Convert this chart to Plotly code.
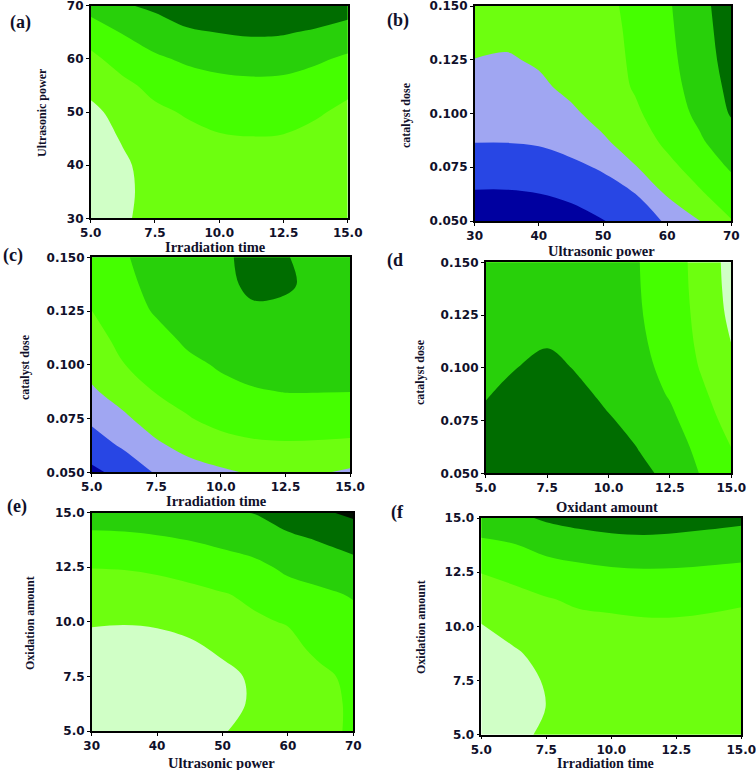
import plotly.graph_objects as go

# ---------------- data ----------------
IRR_TIME = [5, 6.25, 7.5, 8.75, 10, 11.25, 12.5, 13.75, 15]
US_POWER = [30, 35, 40, 45, 50, 55, 60, 65, 70]
CAT_DOSE = [0.05, 0.0625, 0.075, 0.0875, 0.1, 0.1125, 0.125, 0.1375, 0.15]
OX_AMOUNT = [5, 6.25, 7.5, 8.75, 10, 11.25, 12.5, 13.75, 15]

TICKS_TIME = [5, 7.5, 10, 12.5, 15]
TICKTEXT_TIME = ["5.0", "7.5", "10.0", "12.5", "15.0"]
TICKS_POWER = [30, 40, 50, 60, 70]
TICKTEXT_POWER = ["30", "40", "50", "60", "70"]
TICKS_DOSE = [0.05, 0.075, 0.1, 0.125, 0.15]
TICKTEXT_DOSE = ["0.050", "0.075", "0.100", "0.125", "0.150"]
TICKS_OX = [5, 7.5, 10, 12.5, 15]
TICKTEXT_OX = ["5.0", "7.5", "10.0", "12.5", "15.0"]

# response level (contour band index) on the grid; rows = y values, columns = x values
Z_A = [  # x: irradiation time, y: ultrasonic power
    [0.55, 0.92, 1.20, 1.42, 1.58, 1.63, 1.60, 1.45, 1.20],
    [0.50, 0.89, 1.18, 1.42, 1.60, 1.64, 1.62, 1.47, 1.22],
    [0.52, 0.90, 1.25, 1.50, 1.70, 1.75, 1.72, 1.56, 1.30],
    [0.70, 1.05, 1.45, 1.70, 1.92, 1.97, 1.94, 1.76, 1.50],
    [0.90, 1.15, 1.80, 2.10, 2.28, 2.33, 2.30, 2.10, 1.82],
    [1.12, 1.75, 2.30, 2.55, 2.75, 2.80, 2.77, 2.55, 2.20],
    [1.75, 2.45, 2.85, 3.15, 3.30, 3.40, 3.36, 3.15, 2.85],
    [2.50, 3.05, 3.50, 3.85, 4.02, 4.12, 4.08, 3.88, 3.60],
    [3.35, 3.90, 4.18, 4.65, 4.85, 4.95, 4.92, 4.70, 4.45],
]
Z_B = [  # x: ultrasonic power, y: catalyst dose
    [0.25, 0.25, 0.30, 0.50, 0.95, 1.55, 2.10, 2.97, 3.95],
    [0.90, 0.90, 0.98, 1.25, 1.60, 1.98, 3.10, 3.85, 4.60],
    [1.50, 1.50, 1.58, 1.80, 2.10, 2.95, 3.70, 4.45, 5.10],
    [2.05, 2.05, 2.12, 2.35, 2.90, 3.42, 4.25, 4.88, 5.60],
    [2.40, 2.38, 2.50, 2.85, 3.30, 3.85, 4.50, 5.20, 6.08],
    [2.70, 2.65, 2.85, 3.20, 3.55, 4.08, 4.65, 5.38, 6.25],
    [2.99, 2.92, 3.10, 3.40, 3.70, 4.12, 4.75, 5.50, 6.40],
    [3.20, 3.20, 3.25, 3.50, 3.75, 4.15, 4.82, 5.58, 6.50],
    [3.30, 3.30, 3.35, 3.55, 3.80, 4.20, 4.88, 5.65, 6.60],
]
Z_C = [  # x: irradiation time, y: catalyst dose
    [0.80, 1.30, 2.10, 2.60, 2.85, 3.10, 3.15, 3.10, 2.85],
    [1.50, 2.15, 2.85, 3.30, 3.65, 3.85, 3.90, 3.88, 3.85],
    [2.20, 2.85, 3.45, 3.95, 4.30, 4.45, 4.50, 4.48, 4.40],
    [2.88, 3.40, 4.05, 4.35, 4.75, 4.93, 5.02, 5.02, 5.01],
    [3.30, 3.98, 4.40, 4.80, 5.10, 5.30, 5.35, 5.30, 5.25],
    [3.65, 4.30, 4.70, 5.20, 5.40, 5.60, 5.62, 5.55, 5.45],
    [3.99, 4.55, 5.10, 5.50, 5.65, 5.92, 5.88, 5.75, 5.60],
    [4.30, 4.75, 5.30, 5.70, 5.85, 6.12, 6.08, 5.85, 5.68],
    [4.55, 4.90, 5.45, 5.80, 5.90, 6.15, 6.03, 5.82, 5.70],
]
Z_D = [  # x: oxidant amount, y: catalyst dose
    [4.50, 4.75, 4.85, 4.75, 4.50, 4.15, 3.85, 2.95, 2.30],
    [4.35, 4.62, 4.72, 4.60, 4.32, 3.97, 3.55, 2.70, 1.99],
    [4.15, 4.45, 4.56, 4.42, 4.08, 3.72, 3.22, 2.42, 1.70],
    [3.95, 4.22, 4.35, 4.20, 3.81, 3.48, 2.92, 2.18, 1.45],
    [3.75, 3.99, 4.29, 3.92, 3.55, 3.28, 2.72, 1.95, 1.20],
    [3.60, 3.82, 3.90, 3.76, 3.38, 3.15, 2.60, 1.82, 0.98],
    [3.45, 3.68, 3.78, 3.62, 3.25, 3.07, 2.52, 1.75, 0.80],
    [3.35, 3.58, 3.68, 3.52, 3.15, 3.03, 2.47, 1.70, 0.70],
    [3.28, 3.50, 3.60, 3.45, 3.10, 3.01, 2.45, 1.67, 0.65],
]
Z_E = [  # x: ultrasonic power, y: oxidation amount
    [0.30, 0.22, 0.25, 0.40, 0.95, 1.25, 1.55, 1.80, 2.10],
    [0.28, 0.20, 0.22, 0.38, 0.72, 1.12, 1.45, 1.75, 2.12],
    [0.35, 0.28, 0.30, 0.48, 0.75, 1.15, 1.50, 1.82, 2.20],
    [0.60, 0.55, 0.60, 0.80, 1.15, 1.45, 1.75, 2.20, 2.35],
    [1.10, 1.06, 1.12, 1.30, 1.55, 1.90, 2.05, 2.55, 2.70],
    [1.55, 1.55, 1.62, 1.78, 1.95, 2.15, 2.60, 2.80, 3.08],
    [2.02, 2.05, 2.15, 2.30, 2.50, 2.75, 3.20, 3.50, 3.70],
    [2.72, 2.75, 2.85, 3.02, 3.25, 3.50, 3.80, 4.05, 4.35],
    [3.50, 3.55, 3.70, 3.90, 3.90, 4.03, 4.45, 4.85, 5.20],
]
Z_F = [  # x: irradiation time, y: oxidation amount
    [0.35, 0.62, 1.25, 1.40, 1.50, 1.55, 1.53, 1.45, 1.35],
    [0.30, 0.58, 1.01, 1.30, 1.42, 1.47, 1.45, 1.38, 1.28],
    [0.35, 0.62, 1.08, 1.35, 1.46, 1.50, 1.48, 1.42, 1.32],
    [0.55, 0.88, 1.30, 1.52, 1.62, 1.66, 1.64, 1.58, 1.48],
    [0.95, 1.35, 1.65, 1.78, 1.86, 1.90, 1.90, 1.86, 1.76],
    [1.45, 1.72, 1.95, 2.12, 2.15, 2.20, 2.20, 2.15, 2.10],
    [2.03, 2.25, 2.50, 2.70, 2.85, 2.90, 2.88, 2.80, 2.72],
    [2.80, 2.95, 3.35, 3.55, 3.65, 3.70, 3.68, 3.60, 3.50],
    [3.55, 3.80, 4.12, 4.30, 4.45, 4.50, 4.40, 4.30, 4.20],
]

# ---------------- styles ----------------
DBLUE = "#0000a0"
BLUE = "#2846e4"
LAV = "#a0a6f2"
PALE = "#d0ffc6"
YG = "#6dff0f"
BRIGHT = "#45ff00"
MID = "#28d00a"
DARK = "#006d00"
BLACK = "#001000"

W, H = 756, 770


def dom_x(a, b):
    return [a / W, b / W]


def dom_y(top, bottom):
    return [1 - bottom / H, 1 - top / H]


panels = [
    dict(label="(a)", lab_xy=(20, 23), x=IRR_TIME, y=US_POWER, z=Z_A,
         colors=[PALE, YG, BRIGHT, MID, DARK],
         xt=(TICKS_TIME, TICKTEXT_TIME), yt=(TICKS_POWER, TICKTEXT_POWER),
         xtitle="Irradiation time", ytitle="Ultrasonic power",
         box=(90.7, 347.7, 5.7, 218.3), xt_xy=(215, 247.5), yt_xy=(42, 113), xt_size=14.5),
    dict(label="(b)", lab_xy=(398, 21), x=US_POWER, y=CAT_DOSE, z=Z_B,
         colors=[DBLUE, BLUE, LAV, YG, BRIGHT, MID, DARK],
         xt=(TICKS_POWER, TICKTEXT_POWER), yt=(TICKS_DOSE, TICKTEXT_DOSE),
         xtitle="Ultrasonic power", ytitle="catalyst dose",
         box=(474.7, 731.3, 6.0, 221.0), xt_xy=(601, 250.5), yt_xy=(406, 115), xt_size=14.5),
    dict(label="(c)", lab_xy=(13, 255), x=IRR_TIME, y=CAT_DOSE, z=Z_C,
         colors=[DBLUE, BLUE, LAV, YG, BRIGHT, MID, DARK],
         xt=(TICKS_TIME, TICKTEXT_TIME), yt=(TICKS_DOSE, TICKTEXT_DOSE),
         xtitle="Irradiation time", ytitle="catalyst dose",
         box=(91.7, 350.0, 257.3, 472.3), xt_xy=(216, 501), yt_xy=(25, 367), xt_size=14.5),
    dict(label="(d", lab_xy=(395, 261), x=OX_AMOUNT, y=CAT_DOSE, z=Z_D,
         colors=[PALE, YG, BRIGHT, MID, DARK],
         xt=(TICKS_OX, TICKTEXT_OX), yt=(TICKS_DOSE, TICKTEXT_DOSE),
         xtitle="Oxidant amount", ytitle="catalyst dose",
         box=(485.7, 731.3, 262.3, 473.3), xt_xy=(607, 506.5), yt_xy=(420, 372), xt_size=14.5),
    dict(label="(e)", lab_xy=(17, 506), x=US_POWER, y=OX_AMOUNT, z=Z_E,
         colors=[PALE, YG, BRIGHT, MID, DARK, BLACK],
         xt=(TICKS_POWER, TICKTEXT_POWER), yt=(TICKS_OX, TICKTEXT_OX),
         xtitle="Ultrasonic power", ytitle="Oxidation amount",
         box=(91.7, 353.3, 512.7, 731.0), xt_xy=(221, 762.5), yt_xy=(30, 623), xt_size=14.5),
    dict(label="(f", lab_xy=(397, 512), x=IRR_TIME, y=OX_AMOUNT, z=Z_F,
         colors=[PALE, YG, BRIGHT, MID, DARK],
         xt=(TICKS_TIME, TICKTEXT_TIME), yt=(TICKS_OX, TICKTEXT_OX),
         xtitle="Irradiation time", ytitle="Oxidation amount",
         box=(481.3, 741.3, 518.0, 734.7), xt_xy=(605, 763.8), yt_xy=(421, 627), xt_size=14),
]

TICKFONT = dict(family="DejaVu Sans", size=12, color="#10102a", weight="bold")
YTITLE_FONT = dict(family="Liberation Serif", size=12, color="#10102a", weight="bold")
LABEL_FONT = dict(family="Liberation Serif", size=18, color="#10102a", weight="bold")

fig = go.Figure()
layout = dict(width=W, height=H, margin=dict(l=0, r=0, t=0, b=0, autoexpand=False),
              paper_bgcolor="white", plot_bgcolor="white", showlegend=False)
annotations = []

for i, p in enumerate(panels):
    n = i + 1
    xs = "" if n == 1 else str(n)
    nb = len(p["colors"])
    cscale = [[k / (nb - 1), c] for k, c in enumerate(p["colors"])]
    fig.add_trace(go.Contour(
        x=p["x"], y=p["y"], z=p["z"],
        xaxis="x" + xs, yaxis="y" + xs,
        autocontour=False,
        contours=dict(start=1, end=nb - 1, size=1, coloring="fill", showlines=False),
        colorscale=cscale, showscale=False,
        line=dict(width=0, smoothing=1.0),
        hoverinfo="skip",
    ))
    x0, x1, y0, y1 = p["box"]
    common = dict(ticks="outside", ticklen=3, tickwidth=1.2, tickcolor="black",
                  showline=True, linecolor="black", linewidth=1.5, mirror=True,
                  showgrid=False, zeroline=False, tickfont=TICKFONT, fixedrange=True,
                  automargin=False, ticklabeloverflow="allow")
    layout["xaxis" + xs] = dict(domain=dom_x(x0, x1), anchor="y" + xs,
                                range=[p["x"][0], p["x"][-1]],
                                tickmode="array", tickvals=p["xt"][0], ticktext=p["xt"][1],
                                **common)
    layout["yaxis" + xs] = dict(domain=dom_y(y0, y1), anchor="x" + xs,
                                range=[p["y"][0], p["y"][-1]],
                                tickmode="array", tickvals=p["yt"][0], ticktext=p["yt"][1],
                                **common)
    annotations.append(dict(text=p["xtitle"], x=p["xt_xy"][0] / W, y=1 - p["xt_xy"][1] / H,
                            xref="paper", yref="paper", showarrow=False,
                            xanchor="center", yanchor="middle",
                            font=dict(family="Liberation Serif", size=p["xt_size"],
                                      color="#10102a", weight="bold")))
    annotations.append(dict(text=p["ytitle"], x=p["yt_xy"][0] / W, y=1 - p["yt_xy"][1] / H,
                            xref="paper", yref="paper", showarrow=False, textangle=-90,
                            xanchor="center", yanchor="middle", font=YTITLE_FONT))
    annotations.append(dict(text=p["label"], x=p["lab_xy"][0] / W, y=1 - p["lab_xy"][1] / H,
                            xref="paper", yref="paper", showarrow=False,
                            xanchor="center", yanchor="middle", font=LABEL_FONT))

layout["annotations"] = annotations
fig.update_layout(**layout)
fig.write_html("out.html", config={"displayModeBar": False},
               post_script="document.body.style.margin='0';document.body.style.overflow='hidden';")
